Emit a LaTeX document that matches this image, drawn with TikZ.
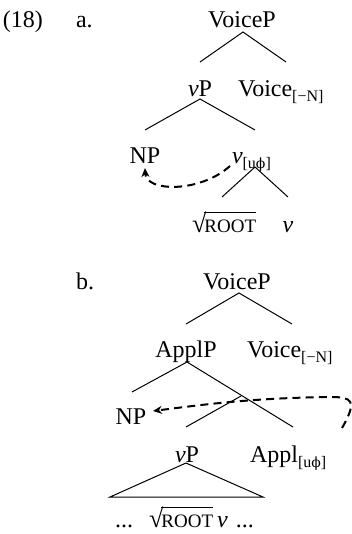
\documentclass[tikz,border=0pt]{standalone}
\usepackage{fontspec}
\setmainfont{Liberation Serif}
\newfontfamily\dvs{DejaVu Serif}
\usetikzlibrary{arrows.meta}
\newcommand\phx{{\dvs\fontsize{7}{8}\selectfont ϕ}}
\newcommand\sbx[1]{\raisebox{-2.5pt}{\fontsize{8}{9}\selectfont #1}}
\newcommand\rootx{\mbox{{\fontsize{13}{14}\selectfont √}\kern-0.9pt\vbox{\hrule height 0.55pt\kern3.4pt\hbox{\fontsize{9.5}{10}\selectfont ROOT}}}}
\begin{document}
\begin{tikzpicture}[x=0.5pt,y=-0.5pt,
  tn/.style={inner sep=0pt,outer sep=0pt,anchor=base,font=\fontsize{12}{14}\selectfont},
  tw/.style={tn,anchor=base west},
  br/.style={line width=0.5pt},
  mv/.style={line width=1pt,dash pattern=on 4pt off 2.6pt,-{Stealth[length=4.5pt,width=4pt]}}]
\useasboundingbox (0,0) rectangle (352,534);
% labels
\node[tw] (ex) at (3,28) {(18)};
\node[tw] (la) at (76,28) {a.};
\node[tw] (lb) at (76,289) {b.};
% tree a
\node[tn] (VoiceA) at (242,28) {VoiceP};
\node[tn] (vPA) at (200,97) {\textit{v}P};
\node[tw] (VoiceNA) at (238,97) {Voice\sbx{[−N]}};
\node[tn] (NPA) at (145,163) {NP};
\node[tw] (vuA) at (232,163) {\textit{v}\sbx{[u\phx]}};
\node[tw] (rootA) at (192,232) {\rootx};
\node[tn] (vA) at (288,232) {\textit{v}};
\coordinate (a1) at (243,32);
\coordinate (a1l) at (200,62);
\coordinate (a1r) at (286,62);
\coordinate (a2) at (200,99);
\coordinate (a2l) at (145,130);
\coordinate (a2r) at (255,130);
\coordinate (a3) at (255,167);
\coordinate (a3l) at (222,197);
\coordinate (a3r) at (288,197);
\draw[br] (a1l) -- (a1) -- (a1r);
\draw[br] (a2l) -- (a2) -- (a2r);
\draw[br] (a3l) -- (a3) -- (a3r);
\coordinate (ma) at (230,166);
\coordinate (mat) at (145,168);
\draw[mv] (ma) .. controls (200,193) and (146,192) .. (mat);
% tree b
\node[tn] (VoiceB) at (237,289) {VoiceP};
\node[tn] (ApplPB) at (186,357) {ApplP};
\node[tw] (VoiceNB) at (247,357) {Voice\sbx{[−N]}};
\node[tn] (NPB) at (131,424) {NP};
\node[tn] (vPB) at (187,462) {\textit{v}P};
\node[tw] (ApplB) at (250,462) {Appl\sbx{[u\phx]}};
\node[tw] (botB) at (115,527) {...\hspace{8pt}\rootx\hspace{2pt}\textit{v}\hspace{4pt}...};
\coordinate (b1) at (239,293);
\coordinate (b1l) at (186,324);
\coordinate (b1r) at (292,324);
\coordinate (b2) at (187,362);
\coordinate (b2l) at (132,392);
\coordinate (b2r) at (293,427);
\coordinate (b3) at (241,396);
\coordinate (b3l) at (186,427);
\coordinate (t1) at (186,463);
\coordinate (t2) at (110,497);
\coordinate (t3) at (263,497);
\draw[br] (b1l) -- (b1) -- (b1r);
\draw[br] (b2l) -- (b2) -- (b2r);
\draw[br] (b3) -- (b3l);
\draw[br] (t1) -- (t2) -- (t3) -- cycle;
\coordinate (mb) at (342,428);
\coordinate (mbt) at (153,411);
\draw[mv] (mb) .. controls (358,400) and (352,397) .. (330,397) .. controls (250,398) and (200,405) .. (mbt);
\end{tikzpicture}
\end{document}
